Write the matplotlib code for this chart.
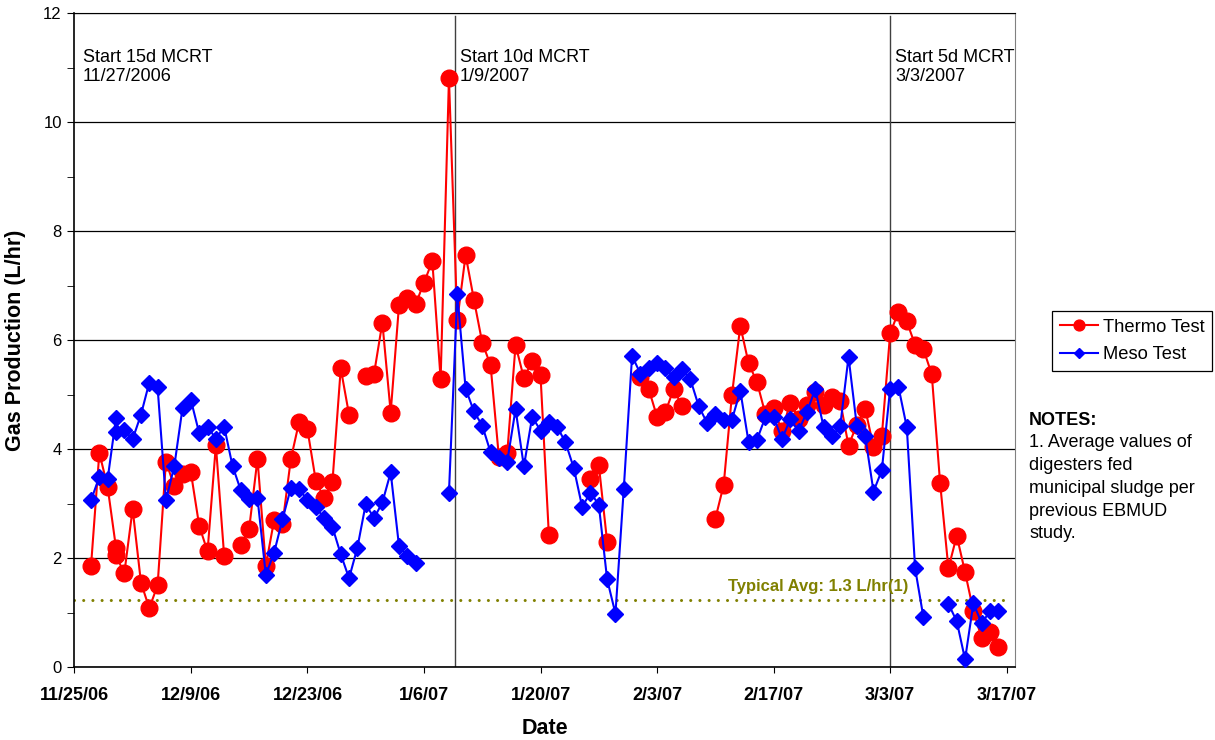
import matplotlib
matplotlib.use('Agg')
import matplotlib.pyplot as plt
import matplotlib.dates as mdates
import numpy as np
from datetime import datetime

plt.rcParams['font.family'] = ['Liberation Sans', 'DejaVu Sans']

nan = np.nan
start = datetime(2006, 11, 25)   # day 0 of the axis

# days after 11/25/06 and gas production (L/hr); nan = no reading (line break)
thermo_day = [2, 3, 4, 5, 5, 6, 7, 8, 9, 10, 11, 12, 13, 14, 15, 16, 17, 18, 19,
              20, 21, 22, 23, 24, 25, 26, 27, 28, 29, 30, 31, 32, 33, 34,
              35, 36, 37, 38, 39, 40, 41, 42, 43, 44, 45, 46, 47, 48, 49, 50,
              51, 52, 53, 54, 55, 56, 57, 58,
              62, 63, 64, 65,
              68, 69, 70, 71, 72, 73, 74,
              77, 78, 79, 80, 81, 82, 83, 84, 85, 86, 87, 88, 89, 90, 91, 92,
              93, 94, 95, 96, 97, 98, 99, 100, 101, 102, 103, 104, 105, 106,
              107, 108, 109, 110, 111]
thermo_val = [1.85, 3.93, 3.30, 2.19, 2.05, 1.72, 2.90, 1.55, 1.08, 1.50, 3.77,
              3.32, 3.54, 3.57, 2.59, 2.12, 4.07, 2.03, nan,
              2.24, 2.54, 3.82, 1.86, 2.70, 2.62, 3.81, 4.50, 4.36, 3.42, 3.10,
              3.39, 5.48, 4.63, nan,
              5.34, 5.38, 6.32, 4.67, 6.64, 6.78, 6.66, 7.05, 7.45, 5.28, 10.80,
              6.36, 7.56, 6.74, 5.95, 5.54,
              3.85, 3.92, 5.91, 5.30, 5.61, 5.35, 2.43, nan,
              3.45, 3.71, 2.30, nan,
              5.33, 5.10, 4.59, 4.68, 5.10, 4.79, nan,
              2.72, 3.34, 5.00, 6.26, 5.57, 5.23, 4.65, 4.75, 4.33, 4.85, 4.56,
              4.81, 5.05, 4.81, 4.96, 4.88,
              4.06, 4.45, 4.74, 4.04, 4.24, 6.12, 6.52, 6.34, 5.91, 5.83, 5.37,
              3.38, 1.81, 2.41,
              1.74, 1.03, 0.53, 0.64, 0.36]

meso_day = [2, 3, 4, 5, 5, 6, 7, 8, 9, 10, 11, 12, 13, 14, 15, 16, 17, 18, 19,
            20, 21, 22, 23, 24, 25, 26, 27, 28, 29, 30, 31, 32, 33, 34, 35, 36,
            37, 38, 39, 40, 41, 42,
            45, 46, 47, 48, 49, 50, 51, 52, 53, 54, 55, 56, 57, 58, 59, 60, 61,
            62, 63, 64, 65, 66, 67, 68, 69, 70, 71, 72, 73, 74, 75, 76, 77, 78,
            79, 80, 81, 82, 83, 84, 85, 86, 87, 88, 89, 90, 91, 92, 93, 94, 95,
            96, 97, 98, 99, 100, 101, 102, 103,
            105, 106, 107, 108, 109, 110, 111]
meso_val = [3.06, 3.49, 3.45, 4.57, 4.32, 4.35, 4.18, 4.63, 5.22, 5.13, 3.06,
            3.68, 4.76, 4.90, 4.29, 4.41, 4.19, 4.41, 3.69,
            3.24, 3.08, 3.10, 1.69, 2.10, 2.71, 3.28, 3.27, 3.06, 2.94, 2.73,
            2.57, 2.07, 1.63, 2.19, 2.99, 2.73,
            3.02, 3.57, 2.22, 2.04, 1.90, nan,
            3.20, 6.84, 5.11, 4.69, 4.43, 3.94, 3.83, 3.77, 4.73, 3.68, 4.59,
            4.34, 4.49, 4.41, 4.12, 3.65, 2.94,
            3.20, 2.98, 1.61, 0.98, 3.27, 5.71, 5.38, 5.48, 5.58, 5.48, 5.32,
            5.46, 5.28, 4.79, 4.48, 4.64, 4.54,
            4.54, 5.07, 4.12, 4.17, 4.58, 4.59, 4.18, 4.55, 4.33, 4.68, 5.10,
            4.41, 4.23, 4.42, 5.69, 4.42, 4.24,
            3.22, 3.61, 5.11, 5.14, 4.40, 1.81, 0.91, nan,
            1.16, 0.84, 0.14, 1.17, 0.80, 1.03, 1.02]

typical_avg = 1.23
typical_span = [0, 112]

phase_day = [1.0, 45.7, 98.0]          # vertical markers (first has none)
phase_line = [False, True, True]
phase_text = ['Start 15d MCRT\n11/27/2006', 'Start 10d MCRT\n1/9/2007',
              'Start 5d MCRT\n3/3/2007']

tick_day = [0, 14, 28, 42, 56, 70, 84, 98, 112]
tick_label = ['11/25/06', '12/9/06', '12/23/06', '1/6/07', '1/20/07',
              '2/3/07', '2/17/07', '3/3/07', '3/17/07']

x0 = mdates.date2num(start)

fig = plt.figure(figsize=(12.15, 7.4), dpi=100)
ax = fig.add_axes([0.0612, 0.0986, 0.7742, 0.8838])

ax.plot(x0 + np.array(thermo_day), thermo_val, color='red', lw=1.5,
        marker='o', ms=12, label='Thermo Test', zorder=3)
ax.plot(x0 + np.array(meso_day), meso_val, color='blue', lw=1.5,
        marker='D', ms=8.5, label='Meso Test', zorder=4)

ax.plot(x0 + np.array(typical_span), [typical_avg, typical_avg], color='#808000',
        lw=2.2, ls=(0, (0.01, 3)), dash_capstyle='round', zorder=2)
ax.text(x0 + 89.4, typical_avg + 0.17, 'Typical Avg: 1.3 L/hr(1)', color='#808000',
        fontsize=12, fontweight='bold', ha='center', va='baseline')

for d, has_line, txt in zip(phase_day, phase_line, phase_text):
    if has_line:
        ax.axvline(x0 + d, ymax=0.995, color='#404040', lw=1, zorder=1)
        d = d + 0.6
    ax.text(x0 + d, 11.34, txt, fontsize=13, va='top', ha='left',
            linespacing=1.15)

ax.set_xlim(x0, x0 + 113)
ax.set_ylim(0, 12)
ax.set_xticks(x0 + np.array(tick_day))
ax.set_xticklabels(tick_label, fontweight='bold')
ax.set_yticks(range(0, 13, 2))
ax.set_yticks(np.arange(1, 12, 2), minor=True)
ax.tick_params(axis='x', direction='out', length=4.5, pad=10, labelsize=13)
ax.tick_params(axis='y', which='both', direction='out', length=5, pad=4,
               labelsize=12)
ax.yaxis.grid(True, which='major', color='black', lw=0.9)
ax.set_axisbelow(True)
for s in ['left', 'bottom']:
    ax.spines[s].set_color('black')
    ax.spines[s].set_linewidth(1.2)
ax.spines['right'].set_color('#808080')
ax.spines['top'].set_color('black')

ax.set_xlabel('Date', fontsize=15.5, fontweight='bold')
ax.xaxis.set_label_coords(0.5, -0.078)
ax.set_ylabel('Gas Production (L/hr)', fontsize=15.5, fontweight='bold')
ax.yaxis.set_label_coords(-0.051, 0.5)

leg = ax.legend(loc='upper left', bbox_to_anchor=(1052 / 1215, 1 - 311 / 740),
                bbox_transform=fig.transFigure, fontsize=13.2, frameon=True,
                fancybox=False, edgecolor='black', framealpha=1,
                markerscale=0.65, handlelength=2.1, borderpad=0.42,
                labelspacing=0.58, handletextpad=0.25, borderaxespad=0)
leg.get_frame().set_linewidth(0.9)

fig.text(1029 / 1215, 1 - 412 / 740, 'NOTES:', fontsize=13, fontweight='bold',
         va='top')
fig.text(1029 / 1215, 1 - 434 / 740,
         '1. Average values of\ndigesters fed\nmunicipal sludge per\nprevious EBMUD\nstudy.',
         fontsize=13, va='top', linespacing=1.45)

fig.savefig('out.png', dpi=100)
